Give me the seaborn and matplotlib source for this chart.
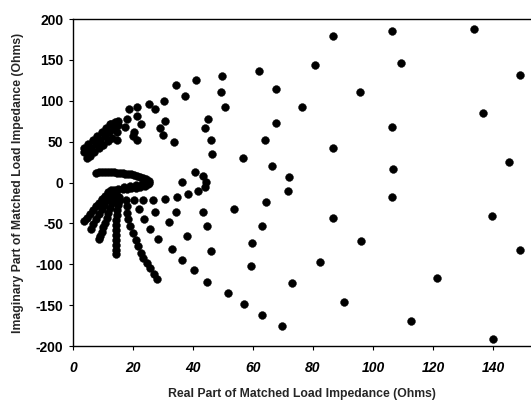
import matplotlib
matplotlib.use("Agg")
import matplotlib.pyplot as plt
import seaborn as sns
import pandas as pd

# ---- data ----
# sparse outer / middle points
outer_x = [106.3, 133.7, 109.3, 149.0, 136.7, 106.3, 106.7, 145.3, 106.3, 139.7, 149.0, 121.3, 112.7, 140.0,
           86.8, 80.8, 62.1, 49.7, 49.2, 67.7, 95.8, 50.7, 76.4, 45.1, 43.9, 67.7, 46.1, 64.1, 46.3, 56.6,
           86.6, 66.3, 72.1, 71.8, 64.3, 53.7, 86.6, 63.0, 96.1, 59.8, 46.0, 82.3, 59.4, 72.9, 90.3]
outer_y = [185.9, 188.4, 145.6, 132.1, 85.6, 67.3, 17.1, 25.7, -18.3, -40.4, -82.0, -117.4, -170.0, -192.0,
           179.8, 144.0, 137.0, 130.9, 110.9, 114.6, 110.5, 92.6, 92.6, 78.3, 66.1, 72.2, 52.6, 52.2, 34.6, 29.7,
           42.0, 20.4, 6.5, -9.8, -23.6, -32.2, -44.0, -53.0, -71.0, -73.8, -83.2, -97.5, -101.9, -123.1, -145.6]

# upper-left scattered points
upper_x = [41.0, 34.5, 37.5, 30.2, 25.2, 27.4, 21.5, 18.6, 21.3, 17.9, 22.8, 30.8, 29.0, 30.0, 33.8,
           17.4, 20.4, 20.1, 21.5, 15.1, 14.6, 14.6, 12.3]
upper_y = [125.6, 119.5, 106.0, 99.5, 95.8, 89.5, 92.4, 90.3, 81.3, 77.7, 71.8, 75.4, 66.6, 57.9, 49.8,
           68.0, 61.5, 56.6, 51.4, 75.5, 62.0, 51.6, 71.0]

# dense upper-left blob
blob_x = [3.5, 5.0, 6.5, 8.0, 9.5, 11.0, 12.5, 14.0,
          4.5, 6.0, 7.5, 9.0, 10.5, 12.0, 13.5, 15.0,
          5.5, 7.0, 8.5, 10.0, 11.5, 13.0, 4.6, 3.8]
blob_y = [42, 47, 52, 57, 62, 67, 71, 74,
          37, 42, 47, 52, 57, 62, 66, 70,
          32, 37, 42, 46, 51, 55, 30, 37]

# loop near the origin
loop_x = [7.5, 8.5, 9.5, 10.5, 11.5, 12.5, 13.5, 14.5, 15.5, 16.5, 17.5, 18.5, 19.5, 20.5, 21.5, 22.5,
          23.5, 24.5, 25.2, 25.5, 25.0, 24.0, 22.5, 21.0, 19.5, 18.0, 16.5, 15.0, 13.5, 12.5,
          17.0, 19.0, 21.0, 23.0]
loop_y = [12, 12.5, 12.5, 12.5, 12.5, 12.5, 12.5, 12, 12, 11.5, 11, 10.5, 10, 9, 8, 7,
          5.5, 4, 2, 0, -2, -4, -5.5, -6.5, -7, -7.5, -8, -8.5, -9, -9,
          -5.0, -4.0, -3.0, -2.0]

# fan of rays below the loop
rayA_x = [11.5, 10.5, 9.5, 8.5, 7.5, 6.5, 5.5, 4.5, 3.7]
rayA_y = [-12, -16, -20, -25, -29, -34, -38, -43, -47]
rayB_x = [13.0, 12.2, 11.3, 10.4, 9.5, 8.6, 7.6, 6.8, 5.9]
rayB_y = [-12, -16, -21, -27, -33, -39, -45, -51, -57]
rayC_x = [14.2, 13.6, 13.0, 12.4, 11.8, 11.2, 10.6, 10.0, 9.5, 9.0, 8.8]
rayC_y = [-14, -19, -25, -31, -37, -43, -49, -55, -61, -66, -69]
rayD_x = [15.3, 15.2, 15.0, 14.8, 14.6, 14.4, 14.3, 14.2, 14.2, 14.2, 14.3, 14.3, 14.3]
rayD_y = [-18, -22, -28, -34, -40, -46, -52, -58, -64, -70, -76, -82, -87]
rayE_x = [17.7, 17.9, 18.1, 18.4, 19.0, 20.1, 20.9, 21.8, 22.6, 23.5, 24.8, 25.7, 27.0, 27.9]
rayE_y = [-20.8, -29, -37, -45, -53, -62, -70, -78, -86, -92, -98, -104.3, -111.3, -117.8]

# rows / rays in the lower middle
low_x = [20.3, 23.2, 26.8, 30.7, 34.6, 38.4, 41.8, 43.9, 44.3, 43.2, 40.7, 36.2,
         21.9, 27.3, 34.3, 43.2, 23.7, 31.9, 44.6, 25.7, 38.0,
         28.2, 33.1, 36.4, 40.3, 44.6, 51.8, 57.0, 63.0, 69.7]
low_y = [-21.7, -21.7, -20.8, -19.9, -17.5, -13.8, -10.6, -5.3, 1.2, 7.7, 12.6, 0.8,
         -33.0, -35.5, -36.3, -35.5, -44.4, -48.5, -53.8, -56.3, -65.7,
         -68.9, -81.1, -94.2, -107.3, -121.5, -134.6, -148.0, -161.9, -175.8]

xticks = [0, 20, 40, 60, 80, 100, 120, 140]
yticks = [-200, -150, -100, -50, 0, 50, 100, 150, 200]

xs = outer_x + upper_x + blob_x + loop_x + rayA_x + rayB_x + rayC_x + rayD_x + rayE_x + low_x
ys = outer_y + upper_y + blob_y + loop_y + rayA_y + rayB_y + rayC_y + rayD_y + rayE_y + low_y
df = pd.DataFrame({"re": xs, "im": ys})

sns.set_style("ticks")
plt.rcParams["font.family"] = ["Liberation Sans", "DejaVu Sans"]

fig = plt.figure(figsize=(5.31, 4.09), dpi=100)
ax = fig.add_axes([0.1375, 0.154, 0.8625, 0.7995])
sns.scatterplot(data=df, x="re", y="im", ax=ax, color="black", s=32,
                edgecolor="black", linewidth=0.3, legend=False)

ax.set_xlim(0, 152.7)
ax.set_ylim(-200, 200)
ax.set_xticks(xticks)
ax.set_yticks(yticks)
ax.set_xticklabels([str(t) for t in xticks], fontstyle="italic", fontweight="bold", fontsize=10)
ax.set_yticklabels([str(t) for t in yticks], fontweight="bold", fontsize=10)
ax.tick_params(axis="both", direction="out", length=3, width=0.8, colors="black", pad=4)
ax.tick_params(axis="x", pad=8)
for side in ["left", "bottom", "top"]:
    ax.spines[side].set_visible(True)
    ax.spines[side].set_color("black")
    ax.spines[side].set_linewidth(1.0)
ax.spines["right"].set_visible(False)

ax.set_xlabel("Real Part of Matched Load Impedance (Ohms)", fontsize=8.8, fontweight="bold", labelpad=9)
ax.set_ylabel("Imaginary Part of Matched Load Impedance (Ohms)", fontsize=8.8, fontweight="bold", labelpad=8)

fig.savefig("out.png", dpi=100)
